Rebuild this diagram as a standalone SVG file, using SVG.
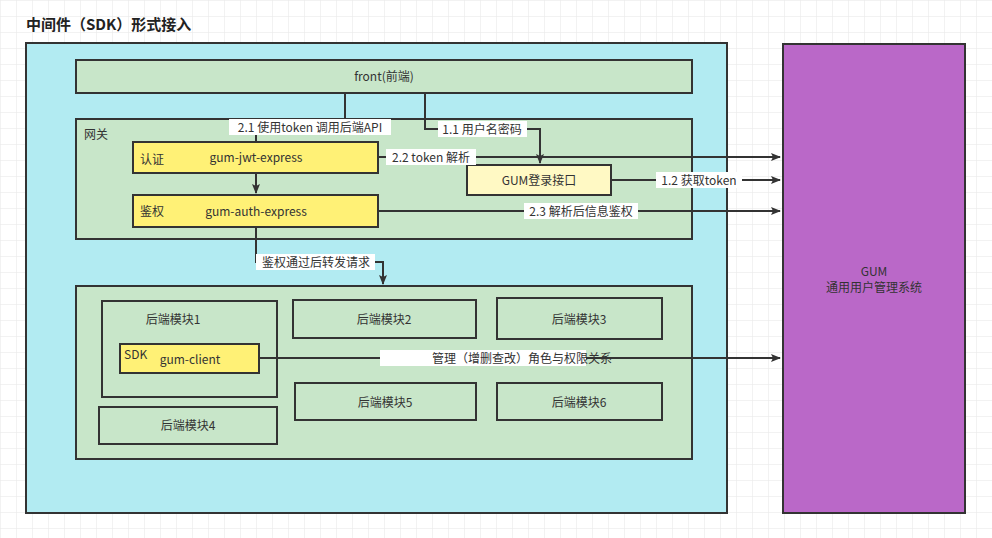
<svg xmlns="http://www.w3.org/2000/svg" width="992" height="538" viewBox="0 0 992 538">
<defs>
<pattern id="grid" width="16" height="16" patternUnits="userSpaceOnUse"><path d="M16 0H0V16" fill="none" stroke="#e6e6e6" stroke-width="1"/></pattern>
<marker id="ar" markerWidth="10" markerHeight="8" refX="9" refY="4" orient="auto" markerUnits="userSpaceOnUse"><path d="M0 0L10 4L0 8L2 4z" fill="#333"/></marker>
<style>
text{font-family:"Microsoft YaHei","Noto Sans CJK SC",sans-serif;font-size:12px;fill:#333}
.b{stroke:#333;stroke-width:2}
.g{fill:#c8e6c9}.y{fill:#fff176}
.c{stroke:#333;stroke-width:2;fill:none}
.m{text-anchor:middle}
.l{fill:#fff}
</style>
</defs>
<rect width="992" height="538" fill="#fff"/>
<rect width="992" height="538" fill="url(#grid)"/>
<text x="26" y="30" style="font-size:15px;font-weight:bold;fill:#222">中间件（SDK）形式接入</text>
<g id="outer"><rect x="26" y="43" width="701" height="470" fill="#b2ebf2" class="b"/></g>
<g id="gum"><rect x="783" y="44" width="182" height="469" fill="#ba68c8" class="b"/><text x="874" y="276" class="m">GUM</text><text x="874" y="292" class="m">通用用户管理系统</text></g>
<g id="front"><rect x="76" y="60" width="616" height="33" class="b g"/><text x="384" y="81" class="m">front(前端)</text></g>
<g id="gateway"><rect x="76" y="119" width="616" height="120" class="b g"/><text x="84" y="139">网关</text></g>
<g id="jwt"><rect x="133" y="142" width="245" height="31" class="b y"/><text x="140" y="164">认证</text><text x="256" y="162" class="m">gum-jwt-express</text></g>
<g id="auth"><rect x="133" y="195" width="245" height="32" class="b y"/><text x="140" y="216">鉴权</text><text x="256" y="216" class="m">gum-auth-express</text></g>
<g id="login"><rect x="467" y="165" width="144" height="30" fill="#fff9c4" class="b"/><text x="539" y="185" class="m">GUM登录接口</text></g>
<g id="backend"><rect x="76" y="286" width="616" height="173" class="b g"/></g>
<g id="m1"><rect x="102" y="301" width="175" height="96" class="b g"/><text x="173" y="324" class="m">后端模块1</text></g>
<g id="sdk"><rect x="120" y="344" width="139" height="29" class="b y"/><text x="124" y="359">SDK</text><text x="190" y="364" class="m">gum-client</text></g>
<g id="m2"><rect x="293" y="300" width="183" height="38" class="b g"/><text x="384" y="324" class="m">后端模块2</text></g>
<g id="m3"><rect x="497" y="298" width="165" height="41" class="b g"/><text x="579" y="324" class="m">后端模块3</text></g>
<g id="m4"><rect x="99" y="407" width="178" height="37" class="b g"/><text x="188" y="430" class="m">后端模块4</text></g>
<g id="m5"><rect x="295" y="383" width="181" height="37" class="b g"/><text x="385" y="407" class="m">后端模块5</text></g>
<g id="m6"><rect x="497" y="383" width="165" height="37" class="b g"/><text x="579" y="407" class="m">后端模块6</text></g>
<g id="connectors">
<path d="M345 93V127H256V142" class="c"/>
<rect x="229" y="119" width="162" height="16" class="l"/><text x="310" y="132" class="m">2.1 使用token 调用后端API</text>
<path d="M425 93V129H540V163" class="c" marker-end="url(#ar)"/>
<rect x="438" y="121" width="89" height="16" class="l"/><text x="482" y="134" class="m">1.1 用户名密码</text>
<path d="M378 157H780" class="c" marker-end="url(#ar)"/>
<rect x="386" y="149" width="90" height="16" class="l"/><text x="431" y="162" class="m">2.2 token 解析</text>
<path d="M611 180H780" class="c" marker-end="url(#ar)"/>
<rect x="656" y="172" width="86" height="16" class="l"/><text x="699" y="185" class="m">1.2 获取token</text>
<path d="M378 211H780" class="c" marker-end="url(#ar)"/>
<rect x="524" y="203" width="114" height="16" class="l"/><text x="581" y="216" class="m">2.3 解析后信息鉴权</text>
<path d="M256 173V193" class="c" marker-end="url(#ar)"/>
<path d="M256 227V262H383V284" class="c" marker-end="url(#ar)"/>
<rect x="256" y="254" width="119" height="16" class="l"/><text x="316" y="267" class="m">鉴权通过后转发请求</text>
<path d="M259 358H780" class="c" marker-end="url(#ar)"/>
<rect x="380" y="350" width="206" height="16" class="l"/><text x="522" y="363" class="m">管理（增删查改）角色与权限关系</text>
</g>
</svg>
